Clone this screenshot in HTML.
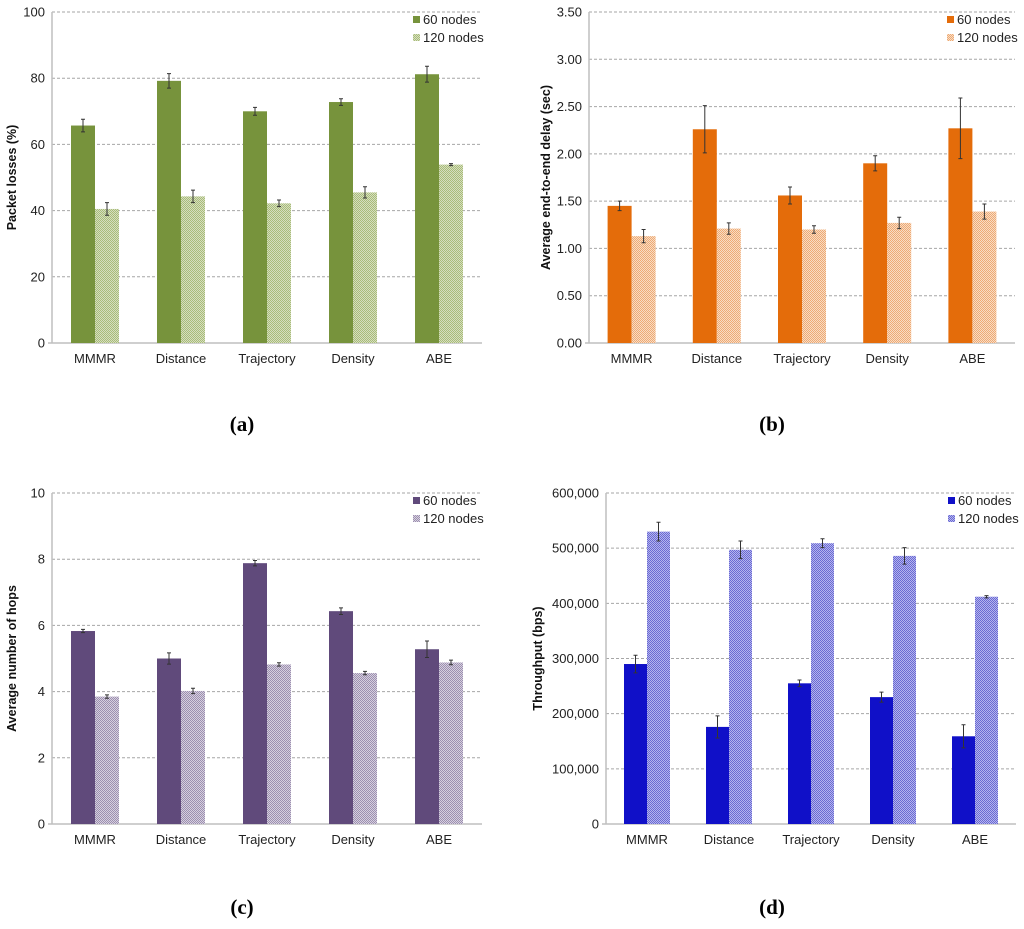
<!DOCTYPE html>
<html><head><meta charset="utf-8"><style>
body{margin:0;background:#fff;width:1024px;height:924px;overflow:hidden}
svg text{font-family:"Liberation Sans",Arial,sans-serif}
</style></head><body>
<svg id="s" width="1024" height="924" xmlns="http://www.w3.org/2000/svg">
<defs>
<pattern id="pa" width="2" height="2" patternUnits="userSpaceOnUse"><rect width="2" height="2" fill="#d5dec0"/><rect width="1" height="1" fill="#a9bc78"/><rect x="1" y="1" width="1" height="1" fill="#a9bc78"/></pattern>
<pattern id="pb" width="2" height="2" patternUnits="userSpaceOnUse"><rect width="2" height="2" fill="#f8dcc4"/><rect width="1" height="1" fill="#eeaa74"/><rect x="1" y="1" width="1" height="1" fill="#eeaa74"/></pattern>
<pattern id="pc" width="2" height="2" patternUnits="userSpaceOnUse"><rect width="2" height="2" fill="#d6d0de"/><rect width="1" height="1" fill="#9c8fb0"/><rect x="1" y="1" width="1" height="1" fill="#9c8fb0"/></pattern>
<pattern id="pd" width="2" height="2" patternUnits="userSpaceOnUse"><rect width="2" height="2" fill="#b4b4ee"/><rect width="1" height="1" fill="#6a6ad2"/><rect x="1" y="1" width="1" height="1" fill="#6a6ad2"/></pattern>
</defs>
</svg>
<script>
const categories=["MMMR","Distance","Trajectory","Density","ABE"];
const lossA=[65.7,79.2,70,72.8,81.2];
const lossAErr=[1.9,2.2,1.2,1,2.4];
const lossB=[40.5,44.3,42.2,45.5,53.9];
const lossBErr=[1.9,1.9,1,1.7,0.3];
const delayA=[1.45,2.26,1.56,1.90,2.27];
const delayAErr=[0.05,0.25,0.09,0.08,0.32];
const delayB=[1.13,1.21,1.20,1.27,1.39];
const delayBErr=[0.07,0.06,0.04,0.06,0.08];
const hopsA=[5.83,5.0,7.88,6.43,5.28];
const hopsAErr=[0.05,0.17,0.08,0.1,0.25];
const hopsB=[3.85,4.02,4.82,4.56,4.88];
const hopsBErr=[0.05,0.08,0.05,0.05,0.07];
const thrA=[290000,176000,255000,230000,159000];
const thrAErr=[16000,20000,6000,9000,21000];
const thrB=[530000,497000,509000,486000,412000];
const thrBErr=[17000,16000,8000,15000,2000];
const ticksA=["0","20","40","60","80","100"];
const ticksB=["0.00","0.50","1.00","1.50","2.00","2.50","3.00","3.50"];
const ticksC=["0","2","4","6","8","10"];
const ticksD=["0","100,000","200,000","300,000","400,000","500,000","600,000"];
const legend=["60 nodes","120 nodes"];
const NS="http://www.w3.org/2000/svg";
const svg=document.getElementById('s');
function mk(tag,attrs,parent,txt){const e=document.createElementNS(NS,tag);for(const k in attrs)e.setAttribute(k,attrs[k]);if(txt!==undefined)e.textContent=txt;(parent||svg).appendChild(e);return e;}
function chart(o){
  const g=mk('g',{});
  
  
  const n=o.ticks.length-1, max=o.max;
  const y=v=>o.y0-(v/max)*(o.y0-o.y1);
  const bw=(o.x1-o.x0)/categories.length;
  o.ticks.forEach((t,i)=>{
    const v=max*i/n, yy=y(v);
    if(i>0){const l=mk('line',{x1:o.x0,x2:o.x1,y1:yy,y2:yy,stroke:'#a6a6a6','stroke-dasharray':'3,2','stroke-width':1},g);
      }
    const tx=mk('text',{x:o.x0-7,y:yy+4.5,'text-anchor':'end','font-size':13,fill:'#222'},g,t);
    
  });
  mk('line',{x1:o.x0,x2:o.x0,y1:o.y1,y2:o.y0,stroke:'#bfbfbf','stroke-width':1.5},g);
  mk('line',{x1:o.x0-4,x2:o.x1,y1:o.y0,y2:o.y0,stroke:'#bfbfbf','stroke-width':1.5},g);
  categories.forEach((c,i)=>{
    const cx=o.x0+bw*(i+0.5);
    [[o.a,o.ae,o.c1],[o.b,o.be,o.c2]].forEach((s,j)=>{
      const v=s[0][i], e=s[1][i], x=cx+(j?0:-o.w);
      const r=mk('rect',{x:x,y:y(v),width:o.w,height:o.y0-y(v),fill:s[2]},g);
      
      
      const ex=x+o.w/2;
      const eb=mk('path',{d:`M${ex},${y(v+e)}V${y(v-e)}M${ex-2},${y(v+e)}H${ex+2}M${ex-2},${y(v-e)}H${ex+2}`,stroke:'#333','stroke-width':1,fill:'none'},g);
      
    });
    const t=mk('text',{x:cx,y:o.y0+20,'text-anchor':'middle','font-size':13,fill:'#222'},g,c);
    
  });
  const yt=mk('text',{transform:`translate(${o.tx},${(o.y0+o.y1)/2}) rotate(-90)`,'text-anchor':'middle','font-size':12.5,'font-weight':'bold',fill:'#111'},g,o.title);
  
  legend.forEach((l,j)=>{
    const ly=o.y1+9+j*18;
    const sw=mk('rect',{x:o.lx,y:ly-5,width:7,height:7,fill:j?o.c2:o.c1},g);
    
    const lt=mk('text',{x:o.lx+10,y:ly+3,'font-size':13,fill:'#222'},g,l);
    
  });
  const cap=mk('text',{x:o.capx,y:o.capy,'text-anchor':'middle','font-size':21,'font-weight':'bold','font-family':'"Liberation Serif",serif',style:'font-family:"Liberation Serif",serif',fill:'#000'},g,o.cap);
  
}
chart({name:'chart-packet-losses',x0:52,x1:482,y0:343,y1:12,max:100,ticks:ticksA,a:lossA,ae:lossAErr,b:lossB,be:lossBErr,c1:'#77933c',c2:'url(#pa)',w:24,title:'Packet losses (%)',tx:16,lx:413,cap:'(a)',capx:242,capy:431});
chart({name:'chart-delay',x0:589,x1:1015,y0:343,y1:12,max:3.5,ticks:ticksB,a:delayA,ae:delayAErr,b:delayB,be:delayBErr,c1:'#e46c0a',c2:'url(#pb)',w:24,title:'Average end-to-end delay (sec)',tx:550,lx:947,cap:'(b)',capx:772,capy:431});
chart({name:'chart-hops',x0:52,x1:482,y0:824,y1:493,max:10,ticks:ticksC,a:hopsA,ae:hopsAErr,b:hopsB,be:hopsBErr,c1:'#604a7b',c2:'url(#pc)',w:24,title:'Average number of hops',tx:16,lx:413,cap:'(c)',capx:242,capy:914});
chart({name:'chart-throughput',x0:606,x1:1016,y0:824,y1:493,max:600000,ticks:ticksD,a:thrA,ae:thrAErr,b:thrB,be:thrBErr,c1:'#1010c8',c2:'url(#pd)',w:23,title:'Throughput (bps)',tx:542,lx:948,cap:'(d)',capx:772,capy:914});
</script>
</body></html>
